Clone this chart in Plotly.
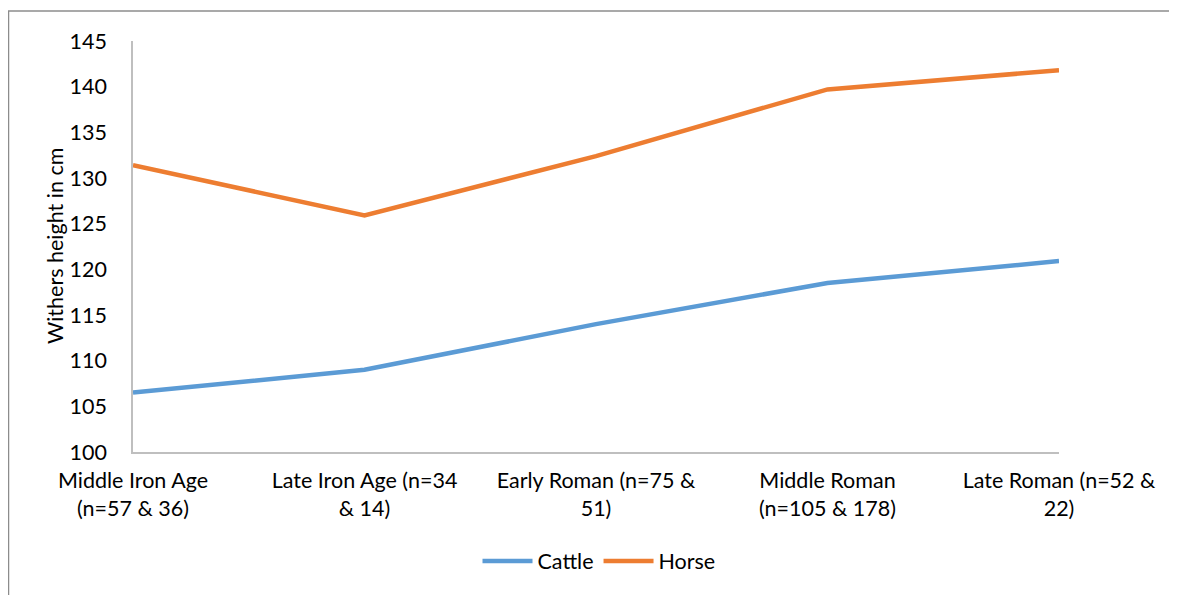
import plotly.graph_objects as go

categories = [
    "Middle Iron Age<br>(n=57 & 36)",
    "Late Iron Age (n=34<br>& 14)",
    "Early Roman (n=75 &<br>51)",
    "Middle Roman<br>(n=105 & 178)",
    "Late Roman (n=52 &<br>22)",
]
cattle = [106.5, 109.0, 114.0, 118.5, 120.9]
horse = [131.4, 125.9, 132.4, 139.7, 141.8]
y_ticks = [100, 105, 110, 115, 120, 125, 130, 135, 140, 145]

FONT = "Lato"
FS = 21.5
OFF = 8  # page body margin
W, H = 1177 - OFF, 595 - OFF
# plot area in page pixels -> figure pixels
L, R, T, B = 133 - OFF, 1059 - OFF, 41 - OFF, 452 - OFF

fig = go.Figure()
fig.add_trace(go.Scatter(x=categories, y=cattle, name="Cattle", mode="lines",
                         line=dict(color="#5B9BD5", width=4.5)))
fig.add_trace(go.Scatter(x=categories, y=horse, name="Horse", mode="lines",
                         line=dict(color="#ED7D31", width=4.5)))

pw, ph = R - L, B - T
def px(x): return (x - OFF - L) / pw
def py(y): return (B - (y - OFF)) / ph

fig.update_layout(
    width=W, height=H,
    margin=dict(l=L, r=W - R, t=T, b=H - B),
    paper_bgcolor="white", plot_bgcolor="white",
    font=dict(family=FONT, size=FS, color="#000000"),
    showlegend=True,
    legend=dict(orientation="h", x=px(599), xanchor="center", y=py(561), yanchor="middle",
                font=dict(size=FS), itemwidth=50, traceorder="normal"),
    xaxis=dict(type="category", categoryorder="array", categoryarray=categories,
               range=[0, 4], showgrid=False, showline=True, linecolor="#BFBFBF", linewidth=1.5,
               ticks="", tickangle=0, zeroline=False, ticklabelstandoff=8),
    yaxis=dict(range=[100, 145], tickvals=y_ticks, showgrid=False, showline=True,
               linecolor="#BFBFBF", linewidth=1.5, ticks="", zeroline=False,
               ticklabelstandoff=20),
    shapes=[
        dict(type="line", xref="paper", yref="paper", x0=px(8), x1=px(1190), y0=py(11), y1=py(11),
             line=dict(color="#8C8C8C", width=1.5)),
        dict(type="line", xref="paper", yref="paper", x0=px(8.5), x1=px(8.5), y0=py(11), y1=py(610),
             line=dict(color="#8C8C8C", width=1.5)),
    ],
    annotations=[
        dict(text="Withers height in cm", xref="paper", yref="paper", x=px(55), y=py(246),
             xanchor="center", yanchor="middle", textangle=-90, showarrow=False,
             font=dict(size=FS)),
    ],
)

fig.write_html("out.html")
